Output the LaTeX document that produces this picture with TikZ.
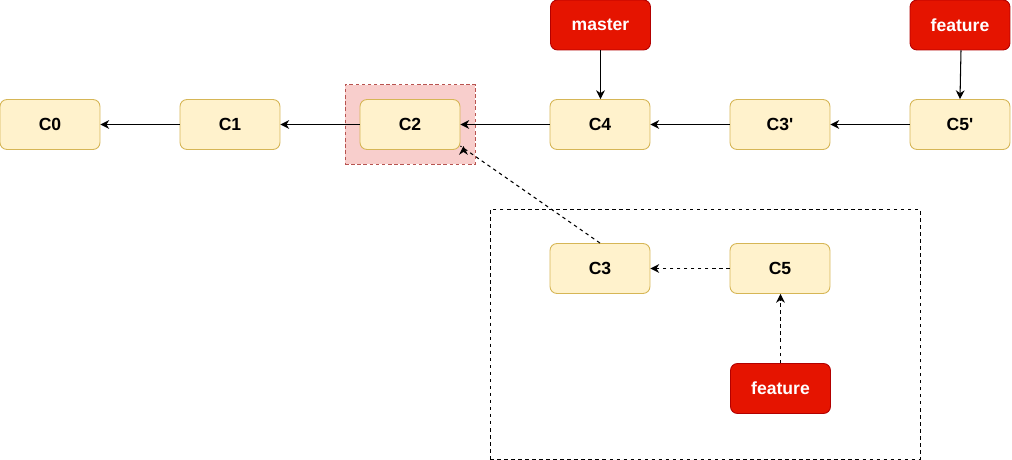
\documentclass[tikz,border=0pt]{standalone}
\usepackage{fontspec}
\setmainfont{Liberation Sans}
\usetikzlibrary{arrows.meta}
\definecolor{cfill}{HTML}{FFF2CC}
\definecolor{cdraw}{HTML}{D6B656}
\definecolor{rfill}{HTML}{E51400}
\definecolor{rdraw}{HTML}{B20000}
\definecolor{pfill}{HTML}{F8CECC}
\definecolor{pdraw}{HTML}{B85450}
\tikzset{
  commit/.style={draw=cdraw, fill=cfill, rounded corners=0.14cm, minimum width=2cm, minimum height=1cm, inner sep=0pt, font=\fontsize{10pt}{12pt}\selectfont\bfseries, line width=0.5pt},
  branch/.style={draw=rdraw, fill=rfill, rounded corners=0.14cm, minimum width=2cm, minimum height=1cm, inner sep=0pt, text=white, font=\fontsize{10pt}{12pt}\selectfont\bfseries, line width=0.5pt},
  link/.style={-{Stealth[length=5pt,width=5pt]}, line width=0.6pt},
  dlink/.style={link, dash pattern=on 2pt off 2pt},
}
\begin{document}
\begin{tikzpicture}[x=0.02cm,y=-0.02cm]
\useasboundingbox (0,0) rectangle (1012,460);
\node[draw=pdraw, fill=pfill, dash pattern=on 2pt off 1.5pt, line width=0.5pt, minimum width=2.6cm, minimum height=1.6cm, inner sep=0pt] (hl) at (410,124.5) {};
\node[draw, dash pattern=on 2pt off 2pt, line width=0.5pt, minimum width=8.6cm, minimum height=5cm, inner sep=0pt] (box) at (705,334.5) {};
\node[commit] (c0) at (50,124.5) {C0};
\node[commit] (c1) at (230,124.5) {C1};
\node[commit] (c2) at (410,124.5) {C2};
\node[commit] (c4) at (600,124.5) {C4};
\node[commit] (c3p) at (780,124.5) {C3\textquotesingle};
\node[commit] (c5p) at (960,124.5) {C5\textquotesingle};
\node[branch] (master) at (600.5,25) {master};
\node[branch] (feat1) at (960,25) {feature};
\node[commit] (c3) at (600,268.5) {C3};
\node[commit] (c5) at (780,268.5) {C5};
\node[branch] (feat2) at (780.5,388.5) {feature};
\draw[link] (c1) -- (c0);
\draw[link] (c2) -- (c1);
\draw[link] (c4) -- (c2);
\draw[link] (c3p) -- (c4);
\draw[link] (c5p) -- (c3p);
\draw[link] (master) -- (master |- c4.north);
\draw[link] (feat1.south) ++(1,0) coordinate (f1s) (f1s) -- (c5p.north);
\draw[dlink] (c3.north) -- (c2.south east |- 0,146) ++(3,0);
\draw[dlink] (c5) -- (c3);
\draw[dlink] (feat2) -- (feat2 |- c5.south);
\end{tikzpicture}
\end{document}
